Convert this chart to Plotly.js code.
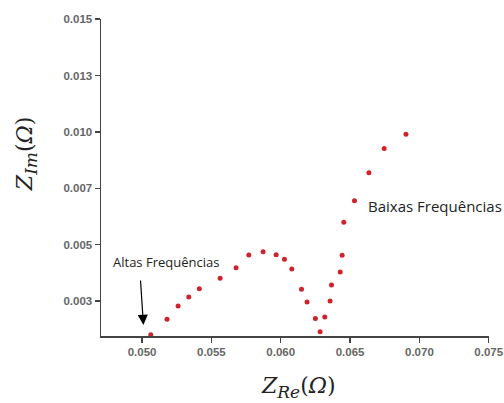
<!DOCTYPE html>
<html><head><meta charset="utf-8">
<script src="https://cdn.plot.ly/plotly-3.0.1.min.js"></script>
<style>html,body{margin:0;padding:0;background:#fff}#c{width:504px;height:403px}</style>
</head><body><div id="c"></div>
<script>
const zRe = [0.05063,0.0518,0.0526,0.05337,0.05413,0.05563,0.05678,0.0577,0.05873,0.05967,0.06027,0.0608,0.0615,0.0619,0.0625,0.06284,0.06318,0.06356,0.06366,0.06429,0.06443,0.06455,0.06532,0.06636,0.06746,0.06903];
const zIm = [0.00101,0.00169,0.00228,0.00268,0.00305,0.00351,0.00398,0.00454,0.00469,0.00455,0.00435,0.00392,0.00302,0.00246,0.00173,0.00114,0.00179,0.0025,0.00321,0.00379,0.00453,0.0060,0.00695,0.00819,0.00927,0.0099];
const xTickVals = [0.050,0.055,0.060,0.065,0.070,0.075];
const xTickText = ['0.050','0.055','0.060','0.065','0.070','0.075'];
const yTickVals = [0.0025,0.005,0.0075,0.010,0.0125,0.015];
const yTickText = ['0.003','0.005','0.007','0.010','0.013','0.015'];

const tickFont = {family:'Liberation Sans, Arial, sans-serif', size:11.5, color:'#666', weight:'bold'};
const axisCommon = {showgrid:false, zeroline:false, showline:true, linecolor:'#444', linewidth:1.5,
  ticks:'outside', ticklen:5, tickwidth:1.5, tickcolor:'#444', tickfont:tickFont, tickmode:'array'};

const data = [{x:zRe, y:zIm, type:'scatter', mode:'markers',
  marker:{size:5, color:'rgb(205,35,45)', line:{width:0}}, cliponaxis:true, hoverinfo:'none'}];

const serif = {family:'DejaVu Serif, Liberation Serif, serif', size:22, color:'#222'};
const layout = {
  width:504, height:403, margin:{l:101, r:15, t:19, b:67},
  paper_bgcolor:'#fff', plot_bgcolor:'#fff', showlegend:false,
  xaxis:Object.assign({}, axisCommon, {range:[0.04704,0.07502], tickvals:xTickVals, ticktext:xTickText}),
  yaxis:Object.assign({}, axisCommon, {range:[0.00095,0.01501], tickvals:yTickVals, ticktext:yTickText}),
  annotations:[
    {xref:'paper', yref:'paper', x:0.51, y:-0.164, text:'<i>Z</i><sub><span style="font-size:17px"><i>Re</i></span></sub>(<i>Ω</i>)', showarrow:false, font:serif, xanchor:'center', yanchor:'middle'},
    {xref:'paper', yref:'paper', x:-0.193, y:0.574, text:'<i>Z</i><sub><span style="font-size:17px"><i>Im</i></span></sub>(<i>Ω</i>)', showarrow:false, font:serif, textangle:-90, xanchor:'center', yanchor:'middle'},
    {xref:'paper', yref:'paper', x:0.168, y:0.233, text:'Altas Frequências', showarrow:false, font:{family:'Open Sans, sans-serif', size:13, color:'#222'}, xanchor:'center', yanchor:'middle'},
    {xref:'paper', yref:'paper', x:0.683, y:0.41, text:'Baixas Frequências', showarrow:false, font:{family:'Open Sans, sans-serif', size:15, color:'#222'}, xanchor:'left', yanchor:'middle'},
    {xref:'x', yref:'y', x:0.0501, y:0.00144, text:'', showarrow:true, ax:-3, ay:-46, arrowhead:2, arrowsize:1.7, arrowwidth:1.2, arrowcolor:'#000'}
  ]
};
Plotly.newPlot('c', data, layout, {staticPlot:true});
</script></body></html>
